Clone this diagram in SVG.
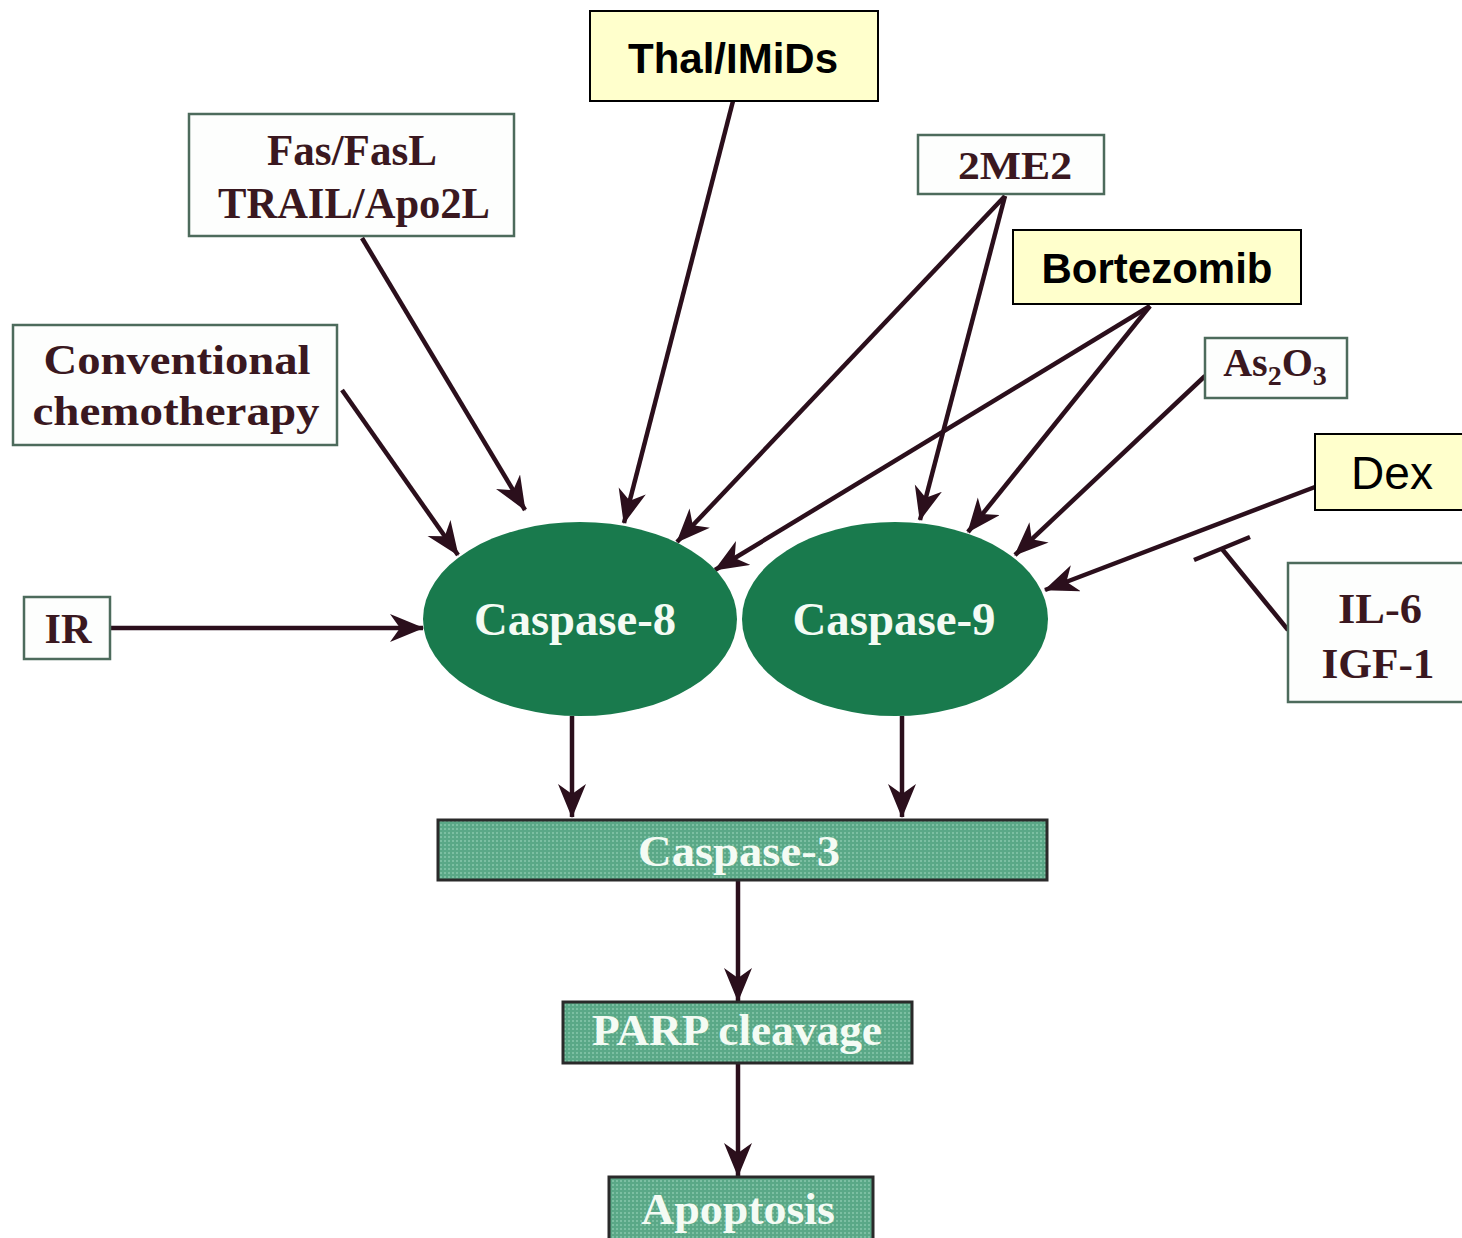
<svg xmlns="http://www.w3.org/2000/svg" width="1462" height="1238" viewBox="0 0 1462 1238">
<style>
.box{fill:#fdfefd;stroke:#4d6b5c;stroke-width:2.5}
.ybox{fill:#ffffcc;stroke:#000;stroke-width:2}
.bar{fill:url(#dots);stroke:#2a2a2a;stroke-width:3}
.st{font-family:"Liberation Serif",serif;font-weight:bold;fill:#3a1820;text-anchor:middle}
.wt{font-family:"Liberation Serif",serif;font-weight:bold;fill:#f4fbf4;text-anchor:middle}
.at{font-family:"Liberation Sans",Arial,sans-serif;fill:#000;text-anchor:middle}
.ln{stroke:#2b0f1c;stroke-width:4.5;fill:none}
.arr{marker-end:url(#ah)}
</style>
<defs>
<marker id="ah" markerUnits="userSpaceOnUse" markerWidth="38" markerHeight="30" refX="33" refY="14" orient="auto">
<path d="M0,0 L34,14 L0,28 L10,14 Z" fill="#2b0f1c"/>
</marker>
<pattern id="dots" width="4" height="4" patternUnits="userSpaceOnUse">
<rect width="4" height="4" fill="#5aa887"/>
<rect width="2" height="2" fill="#7cbfa2"/>
</pattern>
</defs>
<rect width="1462" height="1238" fill="#fff"/>

<g id="connectors">
<line class="ln arr" x1="110" y1="628" x2="423" y2="628"/>
<line class="ln arr" x1="342" y1="390" x2="458" y2="555"/>
<line class="ln arr" x1="362" y1="238" x2="525" y2="510"/>
<line class="ln arr" x1="733" y1="101" x2="624" y2="523"/>
<line class="ln arr" x1="1005" y1="196" x2="677" y2="542"/>
<line class="ln arr" x1="1005" y1="196" x2="920" y2="520"/>
<line class="ln arr" x1="1150" y1="306" x2="715" y2="570"/>
<line class="ln arr" x1="1150" y1="306" x2="968" y2="532"/>
<line class="ln arr" x1="1205" y1="376" x2="1015" y2="555"/>
<line class="ln arr" x1="1315" y1="487" x2="1045" y2="590"/>
<line class="ln" x1="1288" y1="630" x2="1222" y2="549"/>
<line class="ln" x1="1194" y1="560" x2="1250" y2="537"/>
<line class="ln arr" x1="572" y1="716" x2="572" y2="817"/>
<line class="ln arr" x1="902" y1="716" x2="902" y2="817"/>
<line class="ln arr" x1="738" y1="881" x2="738" y2="1001"/>
<line class="ln arr" x1="738" y1="1064" x2="738" y2="1176"/>
</g>

<g id="thal">
<rect class="ybox" x="590" y="11" width="288" height="90"/>
<text class="at" x="733" y="73" font-size="42" font-weight="bold">Thal/IMiDs</text>
</g>
<g id="fas">
<rect class="box" x="189" y="114" width="325" height="122"/>
<text class="st" x="352" y="165" font-size="44" textLength="170" lengthAdjust="spacingAndGlyphs">Fas/FasL</text>
<text class="st" x="354" y="218" font-size="44" textLength="272" lengthAdjust="spacingAndGlyphs">TRAIL/Apo2L</text>
</g>
<g id="chemo">
<rect class="box" x="13" y="325" width="324" height="120"/>
<text class="st" x="177" y="374" font-size="43" textLength="267" lengthAdjust="spacingAndGlyphs">Conventional</text>
<text class="st" x="176" y="425" font-size="43" textLength="287" lengthAdjust="spacingAndGlyphs">chemotherapy</text>
</g>
<g id="me2">
<rect class="box" x="918" y="135" width="186" height="59"/>
<text class="st" x="1015" y="179" font-size="41" textLength="114" lengthAdjust="spacingAndGlyphs">2ME2</text>
</g>
<g id="bortezomib">
<rect class="ybox" x="1013" y="230" width="288" height="74"/>
<text class="at" x="1157" y="283" font-size="42" font-weight="bold">Bortezomib</text>
</g>
<g id="as2o3">
<rect class="box" x="1205" y="338" width="142" height="60"/>
<text class="st" x="1275" y="376" font-size="40">As<tspan font-size="28" dy="9">2</tspan><tspan dy="-9">O</tspan><tspan font-size="28" dy="9">3</tspan></text>
</g>
<g id="dex">
<rect class="ybox" x="1315" y="434" width="150" height="76"/>
<text class="at" x="1392" y="489" font-size="46">Dex</text>
</g>
<g id="il6">
<rect class="box" x="1288" y="563" width="178" height="139"/>
<text class="st" x="1380" y="623" font-size="42" textLength="84" lengthAdjust="spacingAndGlyphs">IL-6</text>
<text class="st" x="1378" y="678" font-size="42" textLength="113" lengthAdjust="spacingAndGlyphs">IGF-1</text>
</g>
<g id="ir">
<rect class="box" x="24" y="597" width="86" height="62"/>
<text class="st" x="68" y="643" font-size="42" textLength="47" lengthAdjust="spacingAndGlyphs">IR</text>
</g>
<g id="casp8">
<ellipse cx="580" cy="619" rx="157" ry="97" fill="#197a4d"/>
<text class="wt" x="575" y="635" font-size="46" textLength="202" lengthAdjust="spacingAndGlyphs">Caspase-8</text>
</g>
<g id="casp9">
<ellipse cx="895" cy="619" rx="153" ry="97" fill="#197a4d"/>
<text class="wt" x="894" y="635" font-size="46" textLength="203" lengthAdjust="spacingAndGlyphs">Caspase-9</text>
</g>
<g id="casp3">
<rect class="bar" x="438" y="820" width="609" height="60"/>
<text class="wt" x="739" y="866" font-size="44" textLength="202" lengthAdjust="spacingAndGlyphs">Caspase-3</text>
</g>
<g id="parp">
<rect class="bar" x="563" y="1002" width="349" height="61"/>
<text class="wt" x="737" y="1045" font-size="44" textLength="290" lengthAdjust="spacingAndGlyphs">PARP cleavage</text>
</g>
<g id="apoptosis">
<rect class="bar" x="609" y="1177" width="264" height="65"/>
<text class="wt" x="738" y="1224" font-size="44" textLength="194" lengthAdjust="spacingAndGlyphs">Apoptosis</text>
</g>
</svg>
